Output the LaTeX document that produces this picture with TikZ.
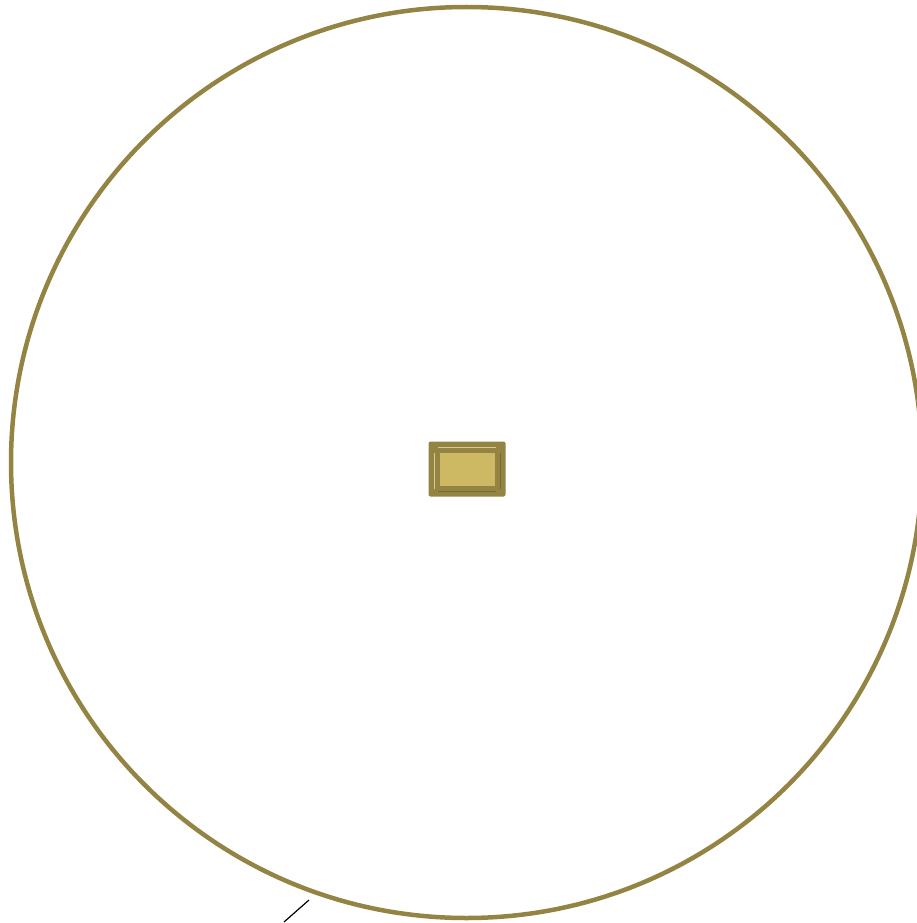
\documentclass[tikz,border=0pt]{standalone}
\begin{document}
\begin{tikzpicture}[x=1pt,y=-1pt,
  olive/.style={draw=olivec,line width=4.5pt},
  boxo/.style={fill=olivec,rounded corners=2pt},
  boxi/.style={fill=tanc},
  hl/.style={draw=lightc,line width=1pt}]
\definecolor{olivec}{HTML}{938443}
\definecolor{tanc}{HTML}{CDB964}
\definecolor{lightc}{HTML}{D8C990}
\useasboundingbox (0,0) rectangle (917,923);
\node[circle,olive,minimum size=911pt,inner sep=0pt] (ring) at (466.5,462.5) {};
\node[boxo,minimum width=77pt,minimum height=55pt,inner sep=0pt] (box) at (467,469) {};
\draw[hl] (438,447) -- (496,447);
\draw[hl] (434,453) -- (434,489);
\draw[hl,draw=olivec!80!black] (438,491) -- (496,491);
\draw[hl,draw=olivec!80!black] (500,453) -- (500,489);
\node[boxi,minimum width=55pt,minimum height=33pt,inner sep=0pt] (inner) at (467,469) {};
\coordinate (p1) at (309,900);
\coordinate (p2) at (284,922);
\draw[black,line width=1.2pt] (p1) -- (p2);
\end{tikzpicture}
\end{document}
